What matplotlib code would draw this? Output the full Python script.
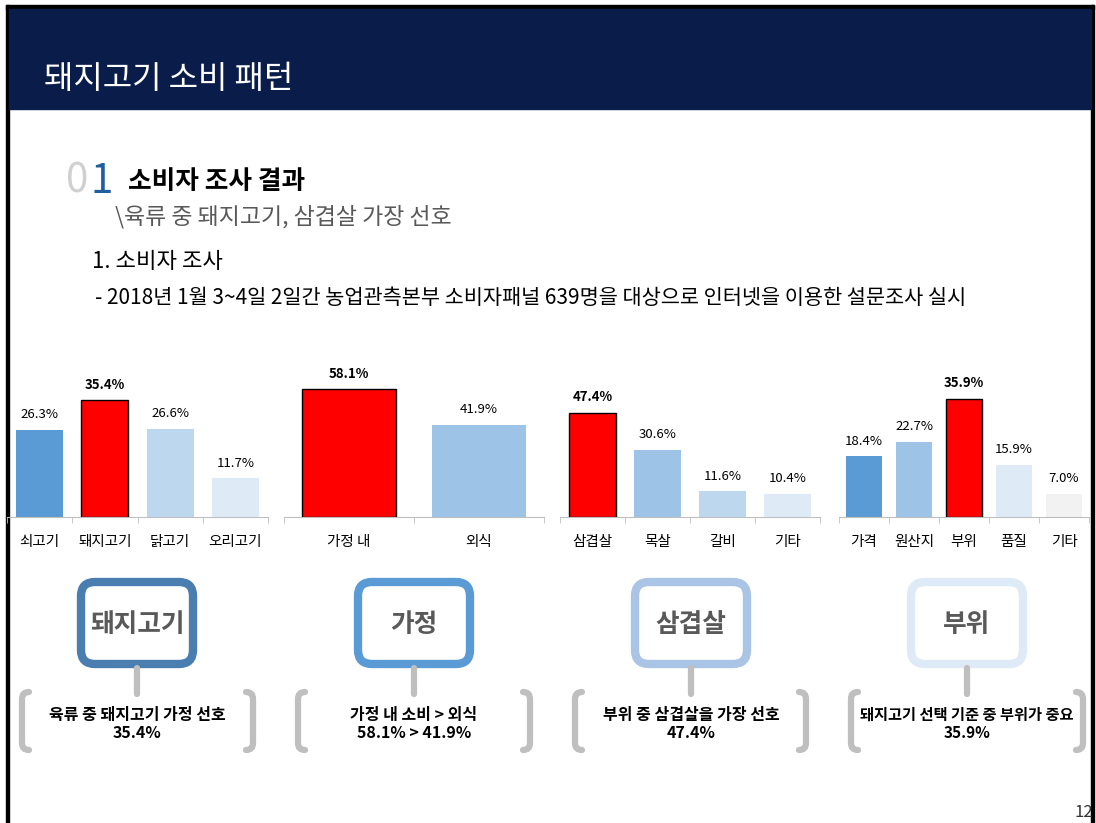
import matplotlib.pyplot as plt
from matplotlib.patches import FancyBboxPatch, Rectangle
from matplotlib.path import Path
from matplotlib.patches import PathPatch

plt.rcParams['font.family'] = ['Noto Sans CJK KR', 'DejaVu Sans']

# chart data
meat_labels = ['쇠고기', '돼지고기', '닭고기', '오리고기']
meat_vals = [26.3, 35.4, 26.6, 11.7]
place_labels = ['가정 내', '외식']
place_vals = [58.1, 41.9]
cut_labels = ['삼겹살', '목살', '갈비', '기타']
cut_vals = [47.4, 30.6, 11.6, 10.4]
crit_labels = ['가격', '원산지', '부위', '품질', '기타']
crit_vals = [18.4, 22.7, 35.9, 15.9, 7.0]

keywords = ['돼지고기', '가정', '삼겹살', '부위']
summary_top = ['육류 중 돼지고기 가정 선호', '가정 내 소비 > 외식',
               '부위 중 삼겹살을 가장 선호', '돼지고기 선택 기준 중 부위가 중요']
summary_bottom = ['35.4%', '58.1% > 41.9%', '47.4%', '35.9%']

RED = '#FF0000'
meat_colors = ['#5B9BD5', RED, '#BDD7EE', '#DEEBF7']
place_colors = [RED, '#9DC3E6']
cut_colors = [RED, '#9DC3E6', '#BDD7EE', '#DEEBF7']
crit_colors = ['#5B9BD5', '#9DC3E6', RED, '#DEEBF7', '#F2F2F2']
box_colors = ['#4A7DB0', '#5B9BD5', '#A9C4E4', '#DEEAF6']

W, H = 1096, 823
fig = plt.figure(figsize=(W / 100, H / 100), dpi=100)
bg = fig.add_axes([0, 0, 1, 1])
bg.set_xlim(0, W)
bg.set_ylim(H, 0)
bg.axis('off')

# frame and header
bg.add_patch(Rectangle((6, 5), 1088, 4, color='black'))
bg.add_patch(Rectangle((6, 5), 3, 830, color='black'))
bg.add_patch(Rectangle((1091, 5), 3, 830, color='black'))
bg.add_patch(Rectangle((9, 9), 1082, 100, color='#0A1C4A'))
bg.text(44, 79, '돼지고기 소비 패턴', color='white', fontsize=23, va='center')

bg.text(66, 181, '0', color='#D0D0D0', fontsize=29, va='center')
bg.text(90, 181, '1', color='#1F5F9F', fontsize=29, va='center')
bg.text(128, 181, '소비자 조사 결과', color='black', fontsize=18.5, fontweight='bold', va='center')
bg.text(115, 217, '\\육류 중 돼지고기, 삼겹살 가장 선호', color='#595959', fontsize=16.5, va='center')
bg.text(92, 262, '1. 소비자 조사', color='black', fontsize=16, va='center')
bg.text(95, 298, '- 2018년 1월 3~4일 2일간 농업관측본부 소비자패널 639명을 대상으로 인터넷을 이용한 설문조사 실시',
        color='black', fontsize=15, va='center')
bg.text(1075, 804, '12', color='#333333', fontsize=12, va='top')


def px_axes(x0, y0, x1, y1):
    return fig.add_axes([x0 / W, 1 - y1 / H, (x1 - x0) / W, (y1 - y0) / H])


def bar_chart(rect, labels, vals, colors, ymax):
    ax = px_axes(*rect)
    n = len(vals)
    x = range(n)
    for i in x:
        red = colors[i] == RED
        ax.bar(i, vals[i], width=0.72, color=colors[i],
               edgecolor='black' if red else 'none', linewidth=1 if red else 0)
        ax.annotate(f'{vals[i]:.1f}%', (i, vals[i]), xytext=(0, 11), textcoords='offset points',
                    ha='center', va='center', fontsize=9.5,
                    fontweight='bold' if red else 'normal', color='black')
    ax.set_xlim(-0.5, n - 0.5)
    ax.set_ylim(0, ymax)
    for s in ['top', 'right', 'left']:
        ax.spines[s].set_visible(False)
    ax.spines['bottom'].set_color('#BFBFBF')
    ax.set_yticks([])
    ax.set_xticks(list(x))
    ax.set_xticklabels(labels, fontsize=10.5)
    ax.tick_params(axis='x', which='major', length=0, pad=13)
    ax.set_xticks([i - 0.5 for i in range(n + 1)], minor=True)
    ax.tick_params(axis='x', which='minor', length=4, color='#BFBFBF')
    ax.patch.set_alpha(0)
    return ax


bar_chart((7, 360, 268, 517), meat_labels, meat_vals, meat_colors, 47.6)
bar_chart((284, 360, 544, 517), place_labels, place_vals, place_colors, 71.4)
bar_chart((560, 360, 820, 517), cut_labels, cut_vals, cut_colors, 71.4)
bar_chart((839, 360, 1089, 517), crit_labels, crit_vals, crit_colors, 47.6)

# keyword boxes, connectors and brackets
centers = [137, 414, 691, 967]
brackets = [(22, 253), (298, 530), (575, 806), (851, 1083)]
GRAY = '#BFBFBF'


def bracket(x, top, bot, d):
    verts = [(x + d * 7, top), (x, top), (x, top + 7), (x, bot - 7), (x, bot), (x + d * 7, bot)]
    codes = [Path.MOVETO, Path.CURVE3, Path.CURVE3, Path.LINETO, Path.CURVE3, Path.CURVE3]
    bg.add_patch(PathPatch(Path(verts, codes), fill=False, edgecolor=GRAY, lw=4.5, capstyle='round'))


for i, cx in enumerate(centers):
    bg.add_patch(FancyBboxPatch((cx - 56, 582), 112, 82, boxstyle='round,pad=0,rounding_size=14',
                                facecolor='white', edgecolor=box_colors[i], lw=6))
    bg.text(cx, 624, keywords[i], ha='center', va='center', fontsize=18.5,
            fontweight='bold', color='#595959')
    bg.plot([cx, cx], [668, 694], color=GRAY, lw=4.5, solid_capstyle='round')
    lx, rx = brackets[i]
    bracket(lx, 692, 750, 1)
    bracket(rx, 692, 750, -1)
    fs = 11 if i == 3 else 11.5
    bg.text(cx, 715, summary_top[i], ha='center', va='center', fontsize=fs, fontweight='bold')
    bg.text(cx, 733, summary_bottom[i], ha='center', va='center', fontsize=fs, fontweight='bold')

fig.savefig('out.png', dpi=100)
